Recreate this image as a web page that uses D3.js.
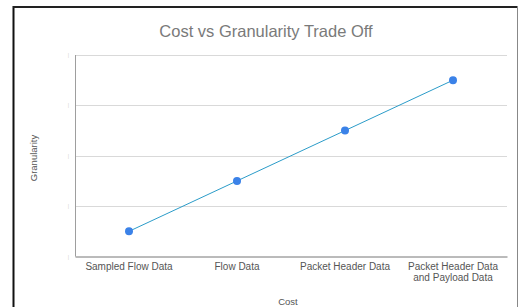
<!DOCTYPE html>
<html>
<head>
<meta charset="utf-8">
<script src="https://cdn.jsdelivr.net/npm/d3@7"></script>
<style>
  body { margin: 0; background: #fff; }
  text { font-family: "Liberation Sans", Arial, sans-serif; }
</style>
</head>
<body>
<svg width="519" height="307"></svg>
<script>
// data
var categories = ["Sampled Flow Data", "Flow Data", "Packet Header Data", "Packet Header Data|and Payload Data"];
var granularity = [0.5, 1.5, 2.5, 3.5];
var yTicks = [0, 1, 2, 3, 4];

var svg = d3.select("svg");
var margin = { top: 55, right: 12, bottom: 50, left: 75 };
var width = 519 - margin.left - margin.right,
    height = 307 - margin.top - margin.bottom - 0.5;

// frame around the chart (screenshot border)
svg.append("line").attr("x1", 13.5).attr("x2", 13.5).attr("y1", 6).attr("y2", 307)
  .attr("stroke", "#111").attr("stroke-width", 2);
svg.append("line").attr("x1", 13).attr("x2", 518).attr("y1", 7).attr("y2", 7)
  .attr("stroke", "#222").attr("stroke-width", 2);
svg.append("line").attr("x1", 517.5).attr("x2", 517.5).attr("y1", 6).attr("y2", 307)
  .attr("stroke", "#888").attr("stroke-width", 1);

var g = svg.append("g").attr("transform", "translate(" + margin.left + "," + margin.top + ")");

var x = d3.scaleBand().domain(categories).range([0, width]);
var y = d3.scaleLinear().domain([0, 4]).range([height, 0]);

// gridlines
g.selectAll(".grid").data(yTicks.slice(1))
  .join("line")
  .attr("class", "grid")
  .attr("x1", 0).attr("x2", width)
  .attr("y1", d => Math.round(y(d)) + 0.5).attr("y2", d => Math.round(y(d)) + 0.5)
  .attr("stroke", "#d9d9d9");

// y axis: faint tick labels
var yAxis = g.append("g").call(d3.axisLeft(y).tickValues(yTicks).tickSize(0).tickPadding(6).tickFormat(() => "|"));
yAxis.select(".domain").remove();
yAxis.selectAll("text").attr("fill", "#d0d0d0").style("font-size", "5px");
g.append("line").attr("x1", 0.5).attr("x2", 0.5).attr("y1", 0).attr("y2", height)
  .attr("stroke", "#9e9e9e");

// x axis
var xAxis = g.append("g").attr("transform", "translate(0," + height + ")")
  .call(d3.axisBottom(x).tickSize(0).tickPadding(7).tickFormat(() => ""));
xAxis.select(".domain").attr("stroke", "#777");
xAxis.selectAll(".tick").each(function(d) {
  var t = d3.select(this).select("text")
    .attr("fill", "#555").style("font-size", "10px").attr("dy", null).attr("y", 13);
  d.split("|").forEach(function(s, i) {
    t.append("tspan").attr("x", 0).attr("dy", i ? 11 : 0).text(s);
  });
});

// line and points
var line = d3.line().x((d, i) => x(categories[i]) + x.bandwidth() / 2).y(d => y(d));
g.append("path").datum(granularity)
  .attr("d", line).attr("fill", "none").attr("stroke", "#2b9cc9").attr("stroke-width", 1);
g.selectAll(".pt").data(granularity).join("circle")
  .attr("class", "pt")
  .attr("cx", (d, i) => x(categories[i]) + x.bandwidth() / 2)
  .attr("cy", d => y(d))
  .attr("r", 4)
  .attr("fill", "#3b82e8");

// titles
svg.append("text").attr("x", 266).attr("y", 37).attr("text-anchor", "middle")
  .attr("fill", "#7a7a7a").style("font-size", "16.5px").text("Cost vs Granularity Trade Off");
svg.append("text").attr("x", 288).attr("y", 305).attr("text-anchor", "middle")
  .attr("fill", "#555").style("font-size", "9.5px").text("Cost");
svg.append("text").attr("transform", "translate(37,158) rotate(-90)").attr("text-anchor", "middle")
  .attr("fill", "#555").style("font-size", "9.5px").text("Granularity");
</script>
</body>
</html>
